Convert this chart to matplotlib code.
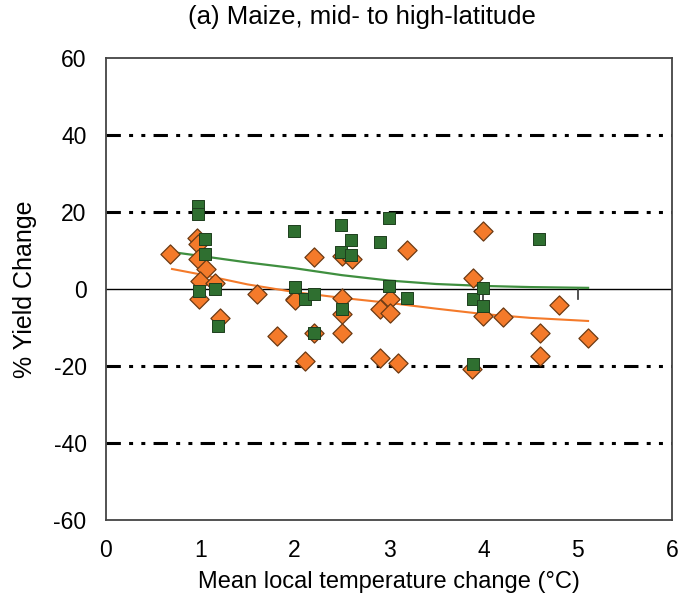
import matplotlib.pyplot as plt
import numpy as np

plt.rcParams["font.family"] = ["Liberation Sans", "DejaVu Sans"]
plt.rcParams["axes.unicode_minus"] = False

# orange diamonds
orange_x = [0.68, 0.97, 0.98, 0.98, 1.06, 1.0, 1.16, 0.99, 1.21, 1.6, 1.81,
            2.0, 2.0, 2.2, 2.2, 2.5, 2.61, 3.19, 2.5, 2.5, 2.9, 3.01, 3.01,
            3.89, 2.5, 2.11, 2.9, 3.1, 3.88, 4.0, 4.0, 4.21, 4.8, 4.6, 5.11,
            4.6]
orange_y = [9.1, 13.3, 11.7, 7.8, 5.2, 2.1, 1.6, -2.6, -7.5, -1.3, -12.2,
            -2.6, -2.9, 8.3, -11.5, 8.6, 7.8, 10.2, -2.3, -6.5, -5.2, -2.6, -6.2,
            2.9, -11.5, -18.8, -18.0, -19.2, -20.8, 15.1, -7.0, -7.3, -4.2, -11.5, -12.8,
            -17.4]

# green squares
green_x = [0.98, 0.98, 1.05, 1.05, 1.16, 0.99, 1.19, 1.99, 2.0, 2.49, 2.6,
           2.9, 3.0, 2.49, 2.6, 2.11, 2.2, 2.5, 3.0, 3.19, 3.89, 2.2, 3.89,
           4.59, 4.0, 4.0]
green_y = [21.5, 19.5, 13.0, 9.1, 0.0, -0.5, -9.6, 15.1, 0.5, 16.7, 12.8,
           12.2, 18.5, 9.6, 8.9, -2.6, -1.3, -5.2, 0.8, -2.3, -2.6, -11.5, -19.6,
           13.0, 0.3, -4.4]

# fitted curves
fit_x = [0.7, 1.0, 1.5, 2.0, 2.5, 3.0, 3.5, 4.0, 4.5, 5.11]
green_fit = [9.6, 8.6, 6.9, 5.4, 3.6, 2.2, 1.3, 0.8, 0.5, 0.3]
orange_fit = [5.2, 3.8, 1.2, -0.8, -2.3, -3.6, -5.1, -6.5, -7.5, -8.3]

grid_levels = [-40, -20, 20, 40]

fig = plt.figure(figsize=(6.82, 5.98), dpi=100)
ax = fig.add_axes([0.1554, 0.1304, 0.830, 0.7726])

for g in grid_levels:
    ax.axhline(g, color="black", lw=2.2,
               ls=(0, (4.7, 2.7, 1.3, 2.7, 1.3, 2.7)), zorder=1)
ax.axhline(0, color="black", lw=1.0, zorder=1)

# small vertical strokes seen in the original
ax.plot([4.0, 4.0], [0.3, -7.0], color="#333333", lw=1.2, zorder=2)
ax.plot([5.0, 5.0], [0.0, -2.5], color="#333333", lw=1.2, zorder=2)

ax.plot(fit_x, green_fit, color="#3f8f3f", lw=1.6, zorder=2)
ax.plot(fit_x, orange_fit, color="#f47a2a", lw=1.5, zorder=2)

ax.scatter(orange_x, orange_y, marker="D", s=95, color="#f47a2a",
           edgecolor="#6b3a14", linewidth=0.9, zorder=3)
ax.scatter(green_x, green_y, marker="s", s=66, color="#2f6f30",
           edgecolor="#1e3f1e", linewidth=0.7, zorder=4)

ax.set_xlim(0, 6)
ax.set_ylim(-60, 60)
ax.set_xticks(range(0, 7))
ax.set_yticks(range(-60, 61, 20))
ax.tick_params(axis="y", length=0, labelsize=16.5, pad=14)
ax.tick_params(axis="x", length=0, labelsize=16.5, pad=14)
for s in ax.spines.values():
    s.set_color("#444444")
    s.set_linewidth(1.3)

ax.set_xlabel("Mean local temperature change (°C)", fontsize=17, labelpad=6)
ax.set_ylabel("% Yield Change", fontsize=18, labelpad=12)
fig.text(0.531, 0.971, "(a) Maize, mid- to high-latitude", fontsize=18.5,
         ha="center", va="center")

fig.savefig("out.png", dpi=100)
